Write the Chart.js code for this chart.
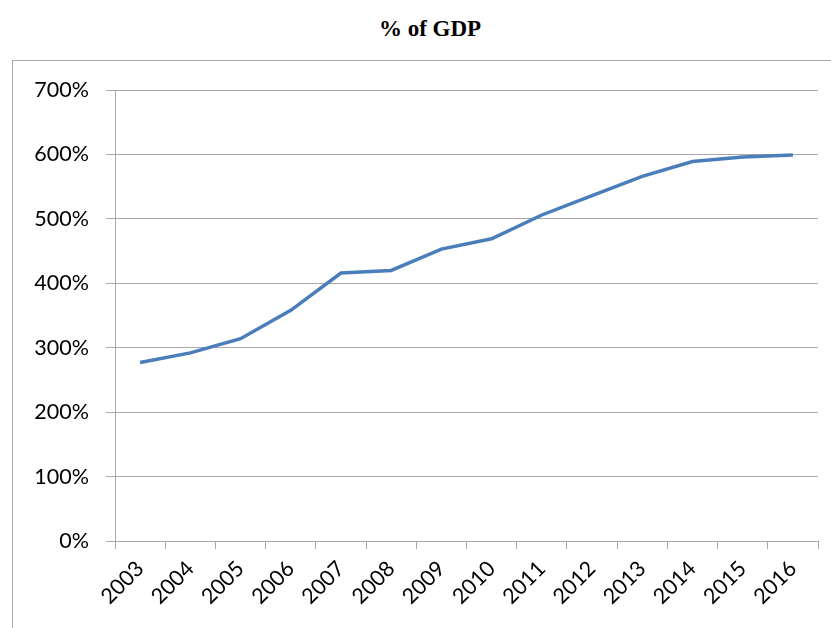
<!DOCTYPE html>
<html>
<head>
<meta charset="utf-8">
<script src="https://cdn.jsdelivr.net/npm/chart.js@4"></script>
<style>
  html, body { margin: 0; padding: 0; width: 831px; height: 628px; overflow: hidden; background: #fff; }
  #frame { position: absolute; left: 12px; top: 60px; width: 900px; height: 700px; border: 1px solid #ababab; box-sizing: border-box; }
  #title { position: absolute; left: 0; top: 16px; width: 860px; text-align: center; font-family: "Liberation Serif", "Times New Roman", serif; font-weight: bold; font-size: 23px; color: #000; }
  #wrap { position: absolute; left: 0; top: 0; width: 831px; height: 628px; }
</style>
</head>
<body>
<div id="frame"></div>
<div id="title">% of GDP</div>
<div id="wrap"><canvas id="c" width="831" height="628"></canvas></div>
<script>
const years = ["2003","2004","2005","2006","2007","2008","2009","2010","2011","2012","2013","2014","2015","2016"];
const pctOfGdp = [277, 292, 314, 358, 416, 420, 453, 469, 506, 536, 566, 589, 596, 599];
const yTicks = [0, 100, 200, 300, 400, 500, 600, 700];

const labelFont = { family: "Lato, 'Open Sans', sans-serif", size: 21.5 };

new Chart(document.getElementById('c'), {
  type: 'line',
  data: {
    labels: years,
    datasets: [{
      data: pctOfGdp,
      borderColor: '#4a7ebb',
      borderWidth: 3.5,
      pointRadius: 0,
      pointHoverRadius: 0,
      tension: 0,
      fill: false
    }]
  },
  options: {
    responsive: false,
    animation: false,
    devicePixelRatio: 1,
    layout: { padding: { left: 29, top: 90, right: 13, bottom: 0 } },
    plugins: { legend: { display: false }, tooltip: { enabled: false }, title: { display: false } },
    scales: {
      x: {
        type: 'category',
        offset: true,
        grid: { display: true, drawOnChartArea: false, drawTicks: true, tickLength: 8, offset: true, color: '#a9a9a9', lineWidth: 1 },
        border: { display: true, color: '#a9a9a9', width: 1 },
        ticks: { color: '#000', font: labelFont, minRotation: 45, maxRotation: 45, padding: 7, autoSkip: false },
        afterFit: (s) => { s.height = 87; }
      },
      y: {
        min: 0, max: 700,
        afterBuildTicks: (s) => { s.ticks = yTicks.map(v => ({ value: v })); },
        grid: { color: '#a9a9a9', lineWidth: 1, tickLength: 9, drawTicks: true },
        border: { display: true, color: '#a9a9a9', width: 1 },
        ticks: { color: '#000', font: labelFont, padding: 17, callback: (v) => v + '%' },
        afterFit: (s) => { s.width = 86; }
      }
    }
  }
});
</script>
</body>
</html>
